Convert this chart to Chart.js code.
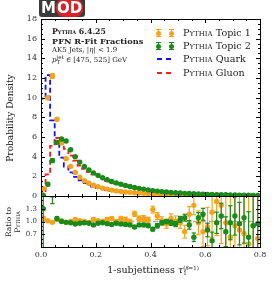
<!DOCTYPE html>
<html>
<head>
<meta charset="utf-8">
<script src="https://cdn.jsdelivr.net/npm/chart.js@4.4.1/dist/chart.umd.min.js"></script>
<style>
html, body { margin: 0; padding: 0; background: #fff; }
#wrap { position: relative; width: 274px; height: 283px; overflow: hidden; font-family: "DejaVu Serif", serif; color: #222; }
canvas { position: absolute; left: 0; top: 0; }
.t { position: absolute; white-space: nowrap; }
.sc { font-variant: small-caps; }
.eb { position: absolute; width: 5px; height: 8px; border-top: 1px solid; border-bottom: 1px solid; box-sizing: border-box; }
.eb::before { content: ""; position: absolute; left: 2px; top: 0; width: 1px; height: 100%; background: currentColor; }
.eb::after { content: ""; position: absolute; left: 0; top: 1px; width: 5px; height: 5px; border-radius: 50%; background: currentColor; }
.ds { position: absolute; height: 2px; width: 16px; background: repeating-linear-gradient(90deg, currentColor 0 5px, transparent 5px 9px); }
.stk { display: inline-block; vertical-align: middle; line-height: 5px; font-size: 5.5px; text-align: left; }
</style>
</head>
<body>
<div id="wrap">
  <canvas id="main" width="274" height="283"></canvas>
  <canvas id="ratio" width="274" height="283"></canvas>

  <!-- logo -->
  <div class="t" style="left:39px;top:0;height:17px;padding:0 2px;background:#3b3b3b;border-radius:0 0 3px 3px;font:bold 15px 'DejaVu Sans';line-height:17px;color:#fff;">M<span style="background:#d8232a;border-radius:8px;padding:0 1px;">OD</span></div>

  <!-- info text -->
  <div class="t" style="left:52px;top:27px;font:bold 7.8px 'DejaVu Serif';"><span class="sc">Pythia</span> 6.4.25</div>
  <div class="t" style="left:52px;top:36px;font:bold 8.2px 'DejaVu Serif';">PFN R-Fit Fractions</div>
  <div class="t" style="left:52px;top:46px;font-size:7px;">AK5 Jets, |<i>η</i>| &lt; 1.9</div>
  <div class="t" style="left:52px;top:55px;font-size:7px;"><i>p</i><span class="stk">jet<br>T</span> ∈ [475, 525] GeV</div>

  <!-- legend -->
  <div class="eb" style="left:156px;top:29px;color:#f7a21b;"></div>
  <div class="eb" style="left:169px;top:29px;color:#f7a21b;"></div>
  <div class="t" style="left:183px;top:27px;font-size:9.6px;"><span class="sc">Pythia</span> Topic 1</div>
  <div class="eb" style="left:156px;top:42px;color:#1a8a1a;"></div>
  <div class="eb" style="left:169px;top:42px;color:#1a8a1a;"></div>
  <div class="t" style="left:183px;top:40px;font-size:9.6px;"><span class="sc">Pythia</span> Topic 2</div>
  <div class="ds" style="left:157px;top:58px;color:#1010ff;"></div>
  <div class="t" style="left:183px;top:53px;font-size:9.6px;"><span class="sc">Pythia</span> Quark</div>
  <div class="ds" style="left:157px;top:72px;color:#ff1a1a;"></div>
  <div class="t" style="left:183px;top:67px;font-size:9.6px;"><span class="sc">Pythia</span> Gluon</div>

  <!-- axis titles -->
  <div class="t" style="left:10px;top:118px;transform:translate(-50%,-50%) rotate(-90deg);font-size:9px;">Probability Density</div>
  <div class="t" style="left:13px;top:222px;transform:translate(-50%,-50%) rotate(-90deg);font-size:7.5px;line-height:9px;text-align:center;">Ratio to<br><span class="sc">Pythia</span></div>
  <div class="t" style="left:153px;top:270px;transform:translate(-50%,-50%);font-size:9.6px;">1-subjettiness <i>τ</i><span class="stk">(<i>β</i>=1)<br>1</span></div>
</div>

<script>
// bins in tau_1 (48 bins over 0 - 0.8)
const nBins = 48;
const tauMax = 0.8;
const binW = tauMax / nBins;
const binCenters = Array.from({ length: nBins }, (_, i) => (i + 0.5) * binW);
const binEdges = Array.from({ length: nBins + 1 }, (_, i) => i * binW);

// main panel: probability densities
const topic1 = [0.75, 10.0, 12.2, 7.8, 5.4, 3.8, 3.0, 2.4, 1.9, 1.55, 1.3, 1.1, 0.95, 0.8, 0.7, 0.6,
  0.52, 0.46, 0.41, 0.37, 0.33, 0.3, 0.27, 0.24, 0.22, 0.2, 0.18, 0.16, 0.14, 0.13, 0.11, 0.1,
  0.09, 0.08, 0.07, 0.06, 0.05, 0.045, 0.04, 0.035, 0.03, 0.025, 0.02, 0.018, 0.015, 0.012, 0.01, 0.008];
const topic1Err = [0.05, 0.2, 0.25, 0.15, 0.1, 0.08, 0.06, 0.05, 0.04, 0.04, 0.03, 0.03, 0.03, 0.03, 0.03, 0.03,
  0.02, 0.02, 0.02, 0.02, 0.02, 0.02, 0.02, 0.02, 0.02, 0.02, 0.02, 0.02, 0.02, 0.02, 0.02, 0.02,
  0.03, 0.04, 0.04, 0.04, 0.05, 0.05, 0.06, 0.06, 0.06, 0.06, 0.06, 0.06, 0.06, 0.06, 0.06, 0.06];
const topic2 = [0.05, 1.2, 3.6, 5.45, 5.8, 5.6, 4.7, 4.0, 3.45, 3.0, 2.65, 2.35, 2.1, 1.85, 1.65, 1.48,
  1.33, 1.2, 1.08, 0.97, 0.87, 0.78, 0.7, 0.62, 0.55, 0.5, 0.45, 0.4, 0.36, 0.33, 0.3, 0.27,
  0.25, 0.23, 0.21, 0.19, 0.17, 0.15, 0.14, 0.13, 0.12, 0.11, 0.1, 0.09, 0.08, 0.07, 0.06, 0.05];
const topic2Err = [0.05, 0.15, 0.2, 0.15, 0.1, 0.08, 0.06, 0.05, 0.04, 0.04, 0.03, 0.03, 0.03, 0.03, 0.03, 0.03,
  0.02, 0.02, 0.02, 0.02, 0.02, 0.02, 0.02, 0.02, 0.02, 0.02, 0.02, 0.02, 0.02, 0.02, 0.02, 0.02,
  0.02, 0.02, 0.02, 0.03, 0.03, 0.03, 0.03, 0.04, 0.04, 0.04, 0.04, 0.05, 0.05, 0.05, 0.05, 0.05];
const quark = [0.7, 9.9, 12.3, 7.7, 5.3, 3.9, 3.0, 2.4, 1.95, 1.6, 1.3, 1.1, 0.95, 0.82, 0.7, 0.6,
  0.53, 0.46, 0.41, 0.36, 0.32, 0.29, 0.26, 0.23, 0.21, 0.19, 0.17, 0.15, 0.13, 0.12, 0.11, 0.095,
  0.085, 0.075, 0.065, 0.056, 0.05, 0.044, 0.038, 0.033, 0.028, 0.024, 0.02, 0.017, 0.014, 0.011, 0.009, 0.007];
const gluon = [0.05, 0.3, 2.2, 5.1, 5.9, 5.5, 4.8, 4.1, 3.6, 3.1, 2.75, 2.45, 2.2, 1.95, 1.73, 1.55,
  1.4, 1.26, 1.14, 1.02, 0.92, 0.82, 0.74, 0.66, 0.59, 0.53, 0.48, 0.43, 0.39, 0.35, 0.32, 0.29,
  0.26, 0.24, 0.22, 0.2, 0.18, 0.16, 0.15, 0.14, 0.13, 0.12, 0.11, 0.1, 0.09, 0.08, 0.07, 0.06];

// ratio panel: topic / pythia
const ratio1 = [1.08, 1.02, 0.98, 1.05, 1.02, 0.98, 1.0, 1.05, 1.02, 1.0, 0.98, 1.05, 1.02, 1.0, 1.05, 1.07,
  1.0, 1.07, 1.05, 1.0, 1.18, 1.07, 1.07, 1.03, 1.28, 1.13, 1.02, 0.94, 1.07, 1.01, 0.97, 0.76,
  1.17, 1.38, 0.97, 0.76, 0.88, 1.22, 1.47, 1.38, 0.97, 0.63, 0.9, 0.8, 0.72, 0.47, 0.9, 0.6];
const ratio1Err = [0.04, 0.02, 0.02, 0.02, 0.02, 0.02, 0.02, 0.02, 0.02, 0.03, 0.03, 0.03, 0.03, 0.03, 0.04, 0.04,
  0.04, 0.05, 0.05, 0.05, 0.06, 0.06, 0.07, 0.07, 0.08, 0.08, 0.09, 0.1, 0.11, 0.12, 0.13, 0.15,
  0.18, 0.22, 0.28, 0.35, 0.45, 0.6, 0.8, 0.9, 1.0, 1.1, 1.2, 1.2, 1.3, 1.3, 1.4, 1.4];
const ratio2 = [1.3, 4.0, 1.62, 1.07, 1.0, 0.98, 0.97, 0.94, 0.96, 0.97, 0.96, 0.92, 0.96, 0.97, 0.95, 0.93,
  0.96, 0.94, 0.93, 0.92, 0.87, 0.92, 0.92, 0.9, 0.82, 0.9, 0.97, 1.0, 0.97, 0.94, 1.05, 1.09,
  0.92, 0.63, 1.09, 1.17, 0.8, 0.55, 0.97, 1.13, 0.76, 0.97, 1.13, 0.95, 1.09, 0.63, 0.9, 0.95];
const ratio2Err = [1.5, 0.5, 0.2, 0.04, 0.02, 0.02, 0.02, 0.02, 0.02, 0.02, 0.02, 0.02, 0.02, 0.02, 0.02, 0.03,
  0.03, 0.03, 0.03, 0.03, 0.03, 0.03, 0.04, 0.04, 0.04, 0.05, 0.05, 0.05, 0.06, 0.06, 0.07, 0.08,
  0.1, 0.1, 0.12, 0.14, 0.16, 0.2, 0.25, 0.3, 0.35, 0.4, 0.45, 0.5, 0.6, 0.6, 0.7, 0.8];

const xTicks = [0.0, 0.2, 0.4, 0.6, 0.8];
const ratioTicks = [0.7, 1.0, 1.3];

const ORANGE = "#f7a21b";
const GREEN = "#1a8a1a";
const tickFont = { family: "DejaVu Serif", size: 8 };

/* helpers */
function pts(vals) {
  return vals.map((v, i) => ({ x: binCenters[i], y: v }));
}
function steps(vals) {
  const d = vals.map((v, i) => ({ x: binEdges[i], y: v }));
  d.push({ x: binEdges[nBins], y: vals[nBins - 1] });
  return d;
}
function errs(vals, e) {
  const d = [];
  vals.forEach((v, i) => {
    d.push({ x: binCenters[i], y: v - e[i] });
    d.push({ x: binCenters[i], y: v + e[i] });
    d.push({ x: binCenters[i], y: null });
  });
  return d;
}
function errSet(vals, e, color, order) {
  return {
    type: "line", data: errs(vals, e), borderColor: color, borderWidth: 1.2,
    pointStyle: "line", pointRadius: 2.2, pointBorderColor: color, pointBorderWidth: 1.2,
    spanGaps: false, order: order
  };
}
function ptSet(vals, color, order) {
  return { type: "scatter", data: pts(vals), backgroundColor: color, borderWidth: 0, pointRadius: 2.7, order: order };
}

/* frame with inward ticks on all sides */
const frameTicks = {
  id: "frameTicks",
  afterDatasetsDraw(chart, args, o) {
    const { ctx, chartArea: a } = chart;
    const xs = chart.scales.x, ys = chart.scales.y;
    const isMajor = (s, v) => s.ticks.some(t => Math.abs(t.value - v) < 1e-6);
    ctx.save();
    ctx.strokeStyle = "#000";
    ctx.lineWidth = 1;
    ctx.beginPath();
    const nx = Math.round((xs.max - xs.min) / o.xMinor);
    for (let k = 0; k <= nx; k++) {
      const v = xs.min + k * o.xMinor;
      const len = isMajor(xs, v) ? 4 : 2;
      const p = Math.round(xs.getPixelForValue(v)) + 0.5;
      ctx.moveTo(p, a.bottom); ctx.lineTo(p, a.bottom - len);
      ctx.moveTo(p, a.top); ctx.lineTo(p, a.top + len);
    }
    const ny = Math.round((ys.max - ys.min) / o.yMinor);
    for (let k = 0; k <= ny; k++) {
      const v = ys.min + k * o.yMinor;
      const len = isMajor(ys, v) ? 4 : 2;
      const p = Math.round(ys.getPixelForValue(v)) + 0.5;
      ctx.moveTo(a.left, p); ctx.lineTo(a.left + len, p);
      ctx.moveTo(a.right, p); ctx.lineTo(a.right - len, p);
    }
    ctx.stroke();
    ctx.strokeRect(Math.round(a.left) + 0.5, Math.round(a.top) + 0.5, Math.round(a.right - a.left), Math.round(a.bottom - a.top));
    ctx.restore();
  }
};

/* main panel */
new Chart(document.getElementById("main"), {
  type: "scatter",
  data: {
    datasets: [
      { type: "line", data: steps(quark), stepped: "after", borderColor: "#1010ff", borderWidth: 1.8, borderDash: [5, 3], pointRadius: 0, fill: false, order: 8 },
      { type: "line", data: steps(gluon), stepped: "after", borderColor: "#ff1a1a", borderWidth: 1.8, borderDash: [5, 3], pointRadius: 0, fill: false, order: 7 },
      errSet(topic1, topic1Err, ORANGE, 6),
      ptSet(topic1, ORANGE, 5),
      errSet(topic2, topic2Err, GREEN, 4),
      ptSet(topic2, GREEN, 3)
    ]
  },
  options: {
    responsive: false, animation: false, devicePixelRatio: 1,
    layout: { padding: { left: 0, top: 19, right: 14, bottom: 87 } },
    plugins: { legend: { display: false }, tooltip: { enabled: false }, frameTicks: { xMinor: 0.05, yMinor: 0.5 } },
    scales: {
      x: {
        type: "linear", min: 0, max: tauMax,
        afterBuildTicks: s => { s.ticks = xTicks.map(v => ({ value: v })); },
        ticks: { display: false },
        grid: { display: false, drawTicks: false }, border: { display: false },
        afterFit: s => { s.height = 0; }
      },
      y: {
        min: 0, max: 18,
        ticks: { stepSize: 2, font: tickFont, color: "#333", padding: 4 },
        grid: { display: false, drawTicks: false }, border: { display: false },
        afterFit: s => { s.width = 41; }
      }
    }
  },
  plugins: [frameTicks]
});

/* ratio panel */
new Chart(document.getElementById("ratio"), {
  type: "scatter",
  data: {
    datasets: [
      { type: "line", data: [{ x: 0, y: 1 }, { x: tauMax, y: 1 }], borderColor: "#aaaaaa", borderWidth: 1.4, borderDash: [5, 3], pointRadius: 0, order: 9 },
      errSet(ratio1, ratio1Err, ORANGE, 6),
      ptSet(ratio1, ORANGE, 5),
      errSet(ratio2, ratio2Err, GREEN, 4),
      ptSet(ratio2, GREEN, 3)
    ]
  },
  options: {
    responsive: false, animation: false, devicePixelRatio: 1,
    layout: { padding: { left: 0, top: 196, right: 14, bottom: 0 } },
    plugins: { legend: { display: false }, tooltip: { enabled: false }, frameTicks: { xMinor: 0.05, yMinor: 0.1 } },
    scales: {
      x: {
        type: "linear", min: 0, max: tauMax,
        afterBuildTicks: s => { s.ticks = xTicks.map(v => ({ value: v })); },
        ticks: { font: tickFont, color: "#333", padding: 3, maxRotation: 0, autoSkip: false, callback: v => v.toFixed(1) },
        grid: { display: false, drawTicks: false }, border: { display: false },
        afterFit: s => { s.height = 36; }
      },
      y: {
        min: 0.4, max: 1.6,
        afterBuildTicks: s => { s.ticks = ratioTicks.map(v => ({ value: v })); },
        ticks: { font: { family: "DejaVu Serif", size: 7 }, color: "#333", padding: 4, callback: v => v.toFixed(1) },
        grid: { display: false, drawTicks: false }, border: { display: false },
        afterFit: s => { s.width = 41; }
      }
    }
  },
  plugins: [frameTicks]
});
</script>
</body>
</html>
